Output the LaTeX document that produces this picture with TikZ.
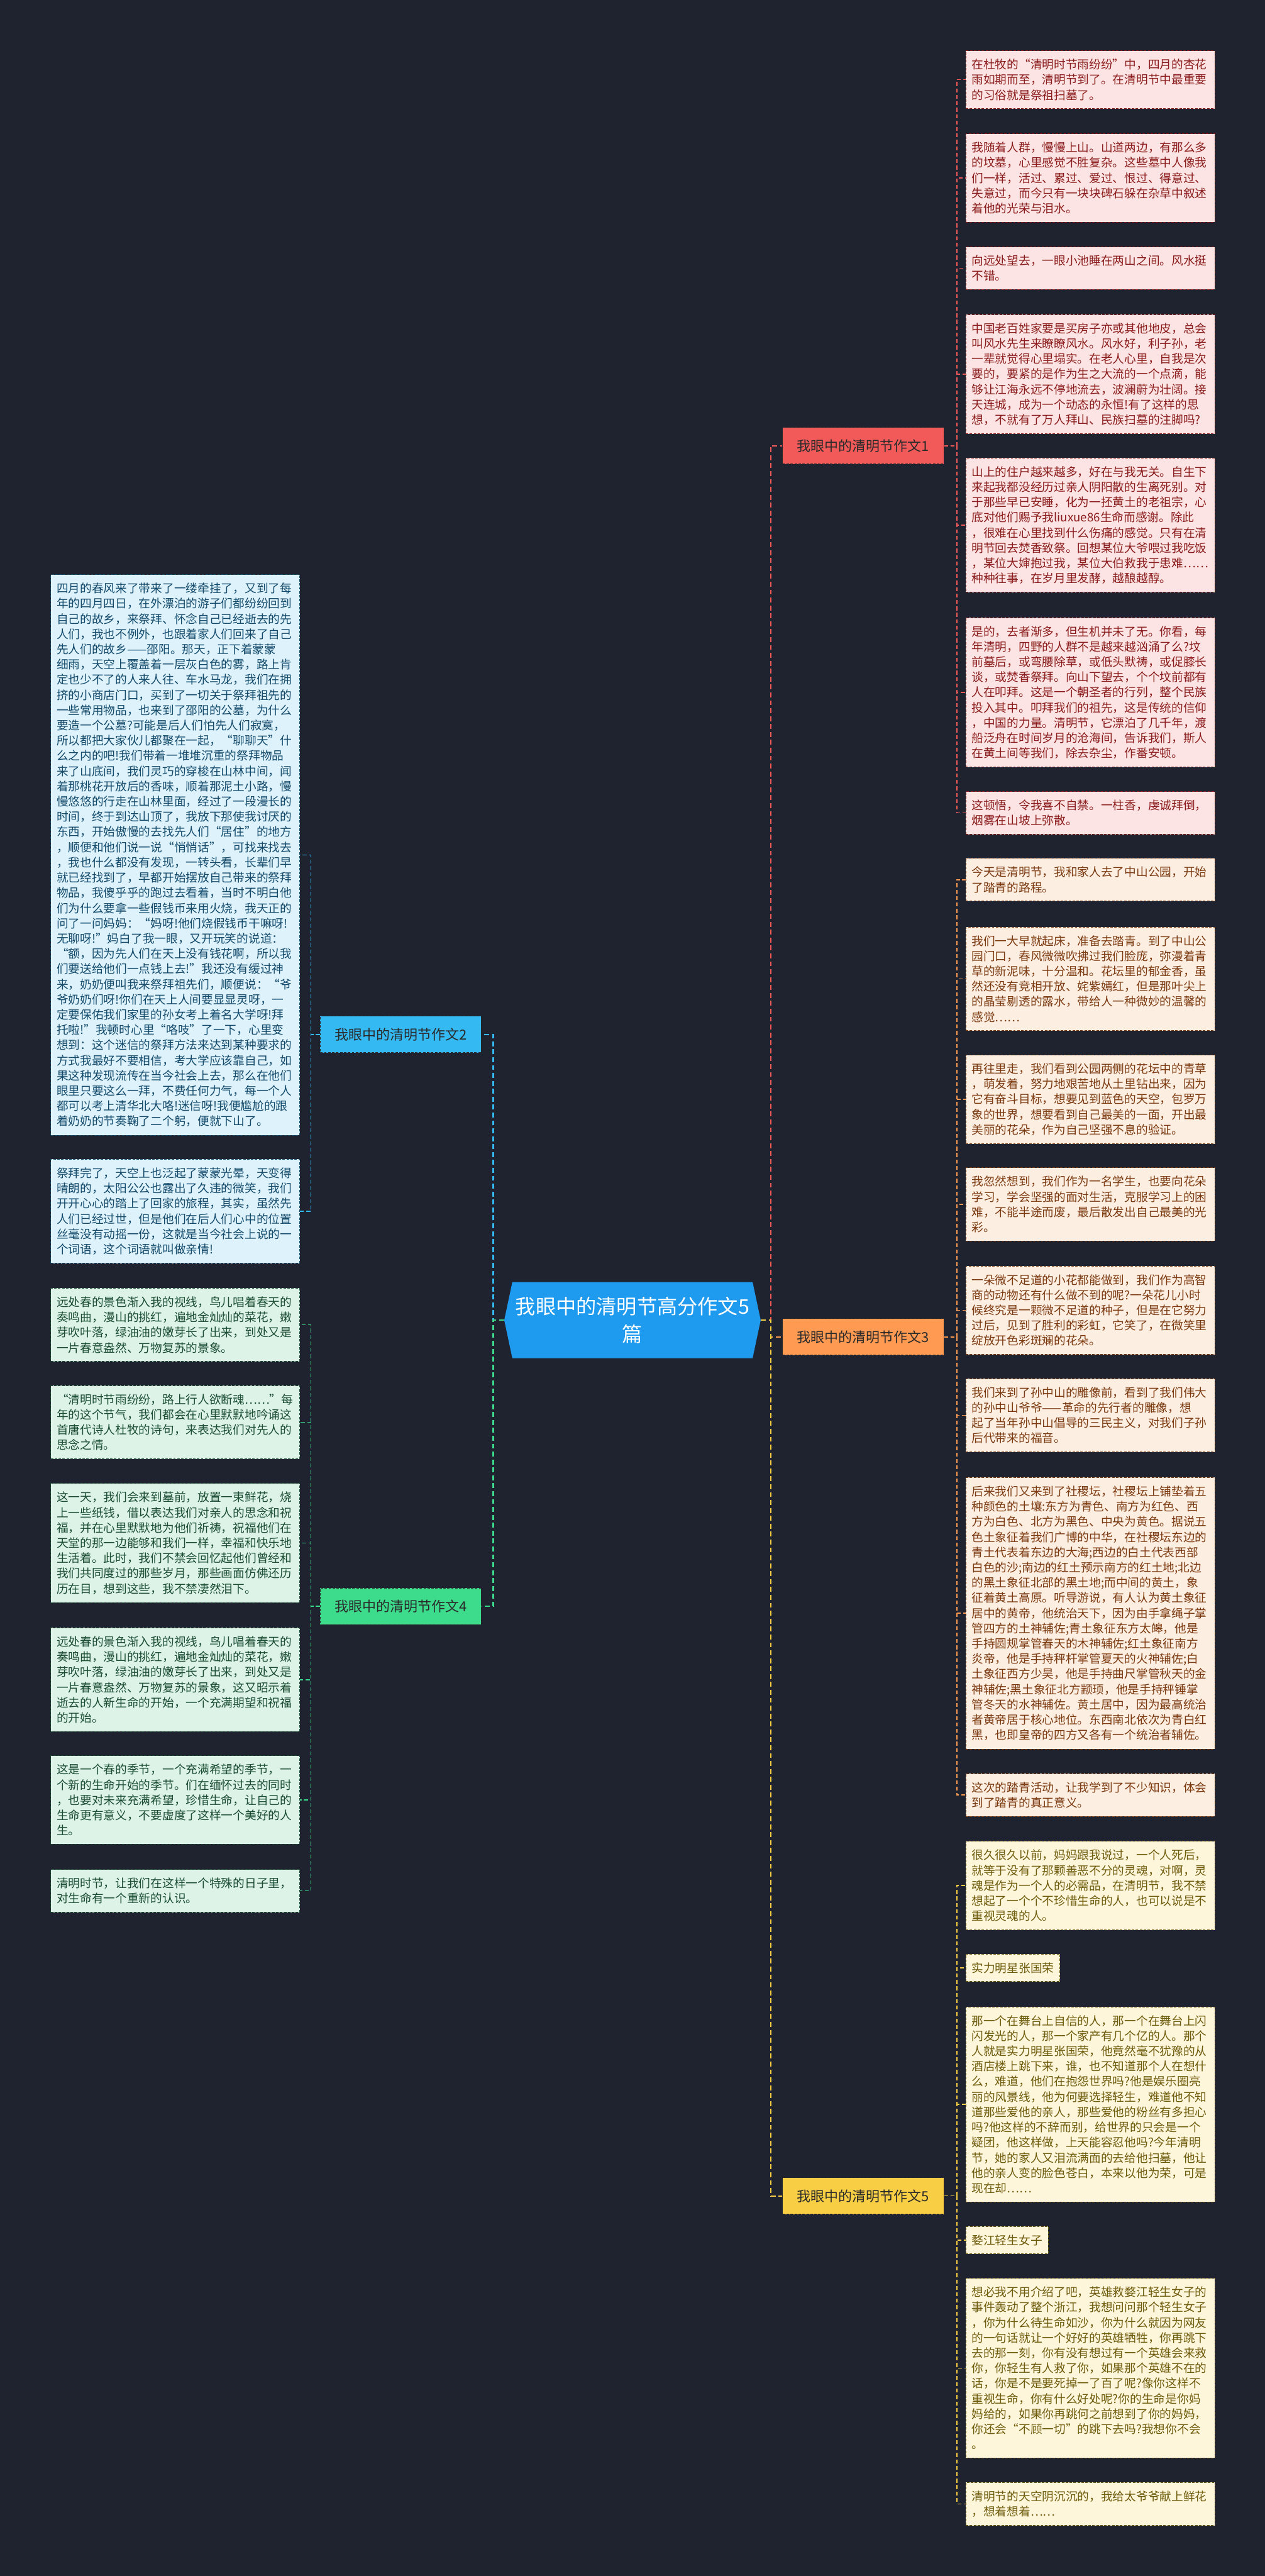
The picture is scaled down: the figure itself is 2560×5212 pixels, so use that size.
\documentclass[tikz,border=0pt]{standalone}
\usepackage{fontspec}
\newfontfamily\cjk{Noto Sans CJK SC}
\usepackage{tikz}
\usetikzlibrary{shapes.symbols,positioning}
\definecolor{bgdark}{HTML}{1F2330}
\definecolor{hubblue}{HTML}{1E9AEF}
\definecolor{redbr}{HTML}{F25A5A}
\definecolor{bluebr}{HTML}{35B9F2}
\definecolor{orangebr}{HTML}{FF9A52}
\definecolor{greenbr}{HTML}{3DDC8C}
\definecolor{yellowbr}{HTML}{F8CE45}
\definecolor{branchtext}{HTML}{2A2A2A}
\definecolor{redfill}{HTML}{FCE4E4}
\definecolor{redtext}{HTML}{8B1C1C}
\definecolor{orangefill}{HTML}{FDEEE2}
\definecolor{orangetext}{HTML}{7B3A10}
\definecolor{yellowfill}{HTML}{FDF6DA}
\definecolor{yellowtext}{HTML}{6E5B0C}
\definecolor{bluefill}{HTML}{DDF2FB}
\definecolor{bluetext}{HTML}{134A6B}
\definecolor{greenfill}{HTML}{DDF3E8}
\definecolor{greentext}{HTML}{1B4D33}

\begin{document}
\begin{tikzpicture}[x=0.5pt,y=-0.5pt,
  leafbase/.style={draw,dash pattern=on 2.5pt off 1.5pt,line width=0.6pt,anchor=north west,
    align=left,inner xsep=6pt,inner ysep=8.4pt,font=\cjk\fontsize{11.9pt}{15.4pt}\selectfont},
  leaf/.style={leafbase,text width=240pt},
  redleaf/.style={fill=redfill,draw=redtext,text=redtext},
  orangeleaf/.style={fill=orangefill,draw=orangetext,text=orangetext},
  yellowleaf/.style={fill=yellowfill,draw=yellowtext,text=yellowtext},
  blueleaf/.style={fill=bluefill,draw=bluetext,text=bluetext},
  greenleaf/.style={fill=greenfill,draw=greentext,text=greentext},
  branch/.style={draw=branchtext,dash pattern=on 2.5pt off 1.5pt,line width=0.6pt,
    minimum width=163pt,minimum height=37pt,inner sep=0pt,text=branchtext,
    font=\cjk\fontsize{14pt}{16pt}\selectfont},
  hub/.style={signal,signal to=west and east,signal pointer angle=156,fill=hubblue,text=white,
    minimum width=259.5pt,minimum height=77pt,align=center,inner xsep=2pt,
    font=\cjk\fontsize{20.5pt}{28.5pt}\selectfont},
  link/.style={line width=1.5pt,dash pattern=on 5pt off 3pt},
  spine/.style={line width=1pt,dash pattern=on 4pt off 2.5pt}
]
\useasboundingbox (0,0) rectangle (2560,5212);
\fill[bgdark] (0,0) rectangle (2560,5212);

% centre and branches
\node[hub] (hub) at (1280,2671) {我眼中的清明节高分作文5\\篇};
\node[branch,fill=redbr] (b1) at (1747,902) {我眼中的清明节作文1};
\node[branch,fill=bluebr] (b2) at (811,2093) {我眼中的清明节作文2};
\node[branch,fill=orangebr] (b3) at (1747,2705) {我眼中的清明节作文3};
\node[branch,fill=greenbr] (b4) at (811,3250) {我眼中的清明节作文4};
\node[branch,fill=yellowbr] (b5) at (1747,4443) {我眼中的清明节作文5};

% essay 1
\node[leaf,redleaf] (l1a) at (1954,102) {在杜牧的“清明时节雨纷纷”中，四月的杏花\\雨如期而至，清明节到了。在清明节中最重要\\的习俗就是祭祖扫墓了。};
\node[leaf,redleaf] (l1b) at (1954,270) {我随着人群，慢慢上山。山道两边，有那么多\\的坟墓，心里感觉不胜复杂。这些墓中人像我\\们一样，活过、累过、爱过、恨过、得意过、\\失意过，而今只有一块块碑石躲在杂草中叙述\\着他的光荣与泪水。};
\node[leaf,redleaf] (l1c) at (1954,499) {向远处望去，一眼小池睡在两山之间。风水挺\\不错。};
\node[leaf,redleaf] (l1d) at (1954,636) {中国老百姓家要是买房子亦或其他地皮，总会\\叫风水先生来瞭瞭风水。风水好，利子孙，老\\一辈就觉得心里塌实。在老人心里，自我是次\\要的，要紧的是作为生之大流的一个点滴，能\\够让江海永远不停地流去，波澜蔚为壮阔。接\\天连城，成为一个动态的永恒!有了这样的思\\想，不就有了万人拜山、民族扫墓的注脚吗?};
\node[leaf,redleaf] (l1e) at (1954,926) {山上的住户越来越多，好在与我无关。自生下\\来起我都没经历过亲人阴阳散的生离死别。对\\于那些早已安睡，化为一抷黄土的老祖宗，心\\底对他们赐予我liuxue86生命而感谢。除此\\，很难在心里找到什么伤痛的感觉。只有在清\\明节回去焚香致祭。回想某位大爷喂过我吃饭\\，某位大婶抱过我，某位大伯救我于患难……\\种种往事，在岁月里发酵，越酿越醇。};
\node[leaf,redleaf] (l1f) at (1954,1249) {是的，去者渐多，但生机并未了无。你看，每\\年清明，四野的人群不是越来越汹涌了么?坟\\前墓后，或弯腰除草，或低头默祷，或促膝长\\谈，或焚香祭拜。向山下望去，个个坟前都有\\人在叩拜。这是一个朝圣者的行列，整个民族\\投入其中。叩拜我们的祖先，这是传统的信仰\\，中国的力量。清明节，它漂泊了几千年，渡\\船泛舟在时间岁月的沧海间，告诉我们，斯人\\在黄土间等我们，除去杂尘，作番安顿。};
\node[leaf,redleaf] (l1g) at (1954,1601) {这顿悟，令我喜不自禁。一柱香，虔诚拜倒，\\烟雾在山坡上弥散。};

% essay 3
\node[leaf,orangeleaf] (l3a) at (1954,1736) {今天是清明节，我和家人去了中山公园，开始\\了踏青的路程。};
\node[leaf,orangeleaf] (l3b) at (1954,1875) {我们一大早就起床，准备去踏青。到了中山公\\园门口，春风微微吹拂过我们脸庞，弥漫着青\\草的新泥味，十分温和。花坛里的郁金香，虽\\然还没有竞相开放、姹紫嫣红，但是那叶尖上\\的晶莹剔透的露水，带给人一种微妙的温馨的\\感觉……};
\node[leaf,orangeleaf] (l3c) at (1954,2134) {再往里走，我们看到公园两侧的花坛中的青草\\，萌发着，努力地艰苦地从土里钻出来，因为\\它有奋斗目标，想要见到蓝色的天空，包罗万\\象的世界，想要看到自己最美的一面，开出最\\美丽的花朵，作为自己坚强不息的验证。};
\node[leaf,orangeleaf] (l3d) at (1954,2362) {我忽然想到，我们作为一名学生，也要向花朵\\学习，学会坚强的面对生活，克服学习上的困\\难，不能半途而废，最后散发出自己最美的光\\彩。};
\node[leaf,orangeleaf] (l3e) at (1954,2561) {一朵微不足道的小花都能做到，我们作为高智\\商的动物还有什么做不到的呢?一朵花儿小时\\候终究是一颗微不足道的种子，但是在它努力\\过后，见到了胜利的彩虹，它笑了，在微笑里\\绽放开色彩斑斓的花朵。};
\node[leaf,orangeleaf] (l3f) at (1954,2789) {我们来到了孙中山的雕像前，看到了我们伟大\\的孙中山爷爷——革命的先行者的雕像，想\\起了当年孙中山倡导的三民主义，对我们子孙\\后代带来的福音。};
\node[leaf,orangeleaf] (l3g) at (1954,2989) {后来我们又来到了社稷坛，社稷坛上铺垫着五\\种颜色的土壤:东方为青色、南方为红色、西\\方为白色、北方为黑色、中央为黄色。据说五\\色土象征着我们广博的中华，在社稷坛东边的\\青土代表着东边的大海;西边的白土代表西部\\白色的沙;南边的红土预示南方的红土地;北边\\的黑土象征北部的黑土地;而中间的黄土，象\\征着黄土高原。听导游说，有人认为黄土象征\\居中的黄帝，他统治天下，因为由手拿绳子掌\\管四方的土神辅佐;青土象征东方太皞，他是\\手持圆规掌管春天的木神辅佐;红土象征南方\\炎帝，他是手持秤杆掌管夏天的火神辅佐;白\\土象征西方少昊，他是手持曲尺掌管秋天的金\\神辅佐;黑土象征北方颛顼，他是手持秤锤掌\\管冬天的水神辅佐。黄土居中，因为最高统治\\者黄帝居于核心地位。东西南北依次为青白红\\黑，也即皇帝的四方又各有一个统治者辅佐。};
\node[leaf,orangeleaf] (l3h) at (1954,3588) {这次的踏青活动，让我学到了不少知识，体会\\到了踏青的真正意义。};

% essay 5
\node[leaf,yellowleaf] (l5a) at (1954,3725) {很久很久以前，妈妈跟我说过，一个人死后，\\就等于没有了那颗善恶不分的灵魂，对啊，灵\\魂是作为一个人的必需品，在清明节，我不禁\\想起了一个个不珍惜生命的人，也可以说是不\\重视灵魂的人。};
\node[leafbase,yellowleaf] (l5b) at (1954,3953) {实力明星张国荣};
\node[leaf,yellowleaf] (l5c) at (1954,4060) {那一个在舞台上自信的人，那一个在舞台上闪\\闪发光的人，那一个家产有几个亿的人。那个\\人就是实力明星张国荣，他竟然毫不犹豫的从\\酒店楼上跳下来，谁，也不知道那个人在想什\\么，难道，他们在抱怨世界吗?他是娱乐圈亮\\丽的风景线，他为何要选择轻生，难道他不知\\道那些爱他的亲人，那些爱他的粉丝有多担心\\吗?他这样的不辞而别，给世界的只会是一个\\疑团，他这样做，上天能容忍他吗?今年清明\\节，她的家人又泪流满面的去给他扫墓，他让\\他的亲人变的脸色苍白，本来以他为荣，可是\\现在却……};
\node[leafbase,yellowleaf] (l5d) at (1954,4504) {婺江轻生女子};
\node[leaf,yellowleaf] (l5e) at (1954,4609) {想必我不用介绍了吧，英雄救婺江轻生女子的\\事件轰动了整个浙江，我想问问那个轻生女子\\，你为什么待生命如沙，你为什么就因为网友\\的一句话就让一个好好的英雄牺牲，你再跳下\\去的那一刻，你有没有想过有一个英雄会来救\\你，你轻生有人救了你，如果那个英雄不在的\\话，你是不是要死掉一了百了呢?像你这样不\\重视生命，你有什么好处呢?你的生命是你妈\\妈给的，如果你再跳何之前想到了你的妈妈，\\你还会“不顾一切”的跳下去吗?我想你不会\\。};
\node[leaf,yellowleaf] (l5f) at (1954,5022) {清明节的天空阴沉沉的，我给太爷爷献上鲜花\\，想着想着……};

% essay 2
\node[leaf,blueleaf] (l2a) at (102,1162) {四月的春风来了带来了一缕牵挂了，又到了每\\年的四月四日，在外漂泊的游子们都纷纷回到\\自己的故乡，来祭拜、怀念自己已经逝去的先\\人们，我也不例外，也跟着家人们回来了自己\\先人们的故乡——邵阳。那天，正下着蒙蒙\\细雨，天空上覆盖着一层灰白色的雾，路上肯\\定也少不了的人来人往、车水马龙，我们在拥\\挤的小商店门口，买到了一切关于祭拜祖先的\\一些常用物品，也来到了邵阳的公墓，为什么\\要造一个公墓?可能是后人们怕先人们寂寞，\\所以都把大家伙儿都聚在一起，“聊聊天”什\\么之内的吧!我们带着一堆堆沉重的祭拜物品\\来了山底间，我们灵巧的穿梭在山林中间，闻\\着那桃花开放后的香味，顺着那泥土小路，慢\\慢悠悠的行走在山林里面，经过了一段漫长的\\时间，终于到达山顶了，我放下那使我讨厌的\\东西，开始傲慢的去找先人们“居住”的地方\\，顺便和他们说一说“悄悄话”，可找来找去\\，我也什么都没有发现，一转头看，长辈们早\\就已经找到了，早都开始摆放自己带来的祭拜\\物品，我傻乎乎的跑过去看着，当时不明白他\\们为什么要拿一些假钱币来用火烧，我天正的\\问了一问妈妈：“妈呀!他们烧假钱币干嘛呀!\\无聊呀!”妈白了我一眼，又开玩笑的说道：\\“额，因为先人们在天上没有钱花啊，所以我\\们要送给他们一点钱上去!”我还没有缓过神\\来，奶奶便叫我来祭拜祖先们，顺便说：“爷\\爷奶奶们呀!你们在天上人间要显显灵呀，一\\定要保佑我们家里的孙女考上着名大学呀!拜\\托啦!”我顿时心里“咯吱”了一下，心里变\\想到：这个迷信的祭拜方法来达到某种要求的\\方式我最好不要相信，考大学应该靠自己，如\\果这种发现流传在当今社会上去，那么在他们\\眼里只要这么一拜，不费任何力气，每一个人\\都可以考上清华北大咯!迷信呀!我便尴尬的跟\\着奶奶的节奏鞠了二个躬，便就下山了。};
\node[leaf,blueleaf] (l2b) at (102,2345) {祭拜完了，天空上也泛起了蒙蒙光晕，天变得\\晴朗的，太阳公公也露出了久违的微笑，我们\\开开心心的踏上了回家的旅程，其实，虽然先\\人们已经过世，但是他们在后人们心中的位置\\丝毫没有动摇一份，这就是当今社会上说的一\\个词语，这个词语就叫做亲情!};

% essay 4
\node[leaf,greenleaf] (l4a) at (102,2606) {远处春的景色渐入我的视线，鸟儿唱着春天的\\奏鸣曲，漫山的挑红，遍地金灿灿的菜花，嫩\\芽吹叶落，绿油油的嫩芽长了出来，到处又是\\一片春意盎然、万物复苏的景象。};
\node[leaf,greenleaf] (l4b) at (102,2803) {“清明时节雨纷纷，路上行人欲断魂……”每\\年的这个节气，我们都会在心里默默地吟诵这\\首唐代诗人杜牧的诗句，来表达我们对先人的\\思念之情。};
\node[leaf,greenleaf] (l4c) at (102,3001) {这一天，我们会来到墓前，放置一束鲜花，烧\\上一些纸钱，借以表达我们对亲人的思念和祝\\福，并在心里默默地为他们祈祷，祝福他们在\\天堂的那一边能够和我们一样，幸福和快乐地\\生活着。此时，我们不禁会回忆起他们曾经和\\我们共同度过的那些岁月，那些画面仿佛还历\\历在目，想到这些，我不禁凄然泪下。};
\node[leaf,greenleaf] (l4d) at (102,3293) {远处春的景色渐入我的视线，鸟儿唱着春天的\\奏鸣曲，漫山的挑红，遍地金灿灿的菜花，嫩\\芽吹叶落，绿油油的嫩芽长了出来，到处又是\\一片春意盎然、万物复苏的景象，这又昭示着\\逝去的人新生命的开始，一个充满期望和祝福\\的开始。};
\node[leaf,greenleaf] (l4e) at (102,3552) {这是一个春的季节，一个充满希望的季节，一\\个新的生命开始的季节。们在缅怀过去的同时\\，也要对未来充满希望，珍惜生命，让自己的\\生命更有意义，不要虚度了这样一个美好的人\\生。};
\node[leaf,greenleaf] (l4f) at (102,3782) {清明时节，让我们在这样一个特殊的日子里，\\对生命有一个重新的认识。};

% links from the centre
\draw[link,redbr] (hub.east) -- ++(20,0) |- (b1.west);
\draw[link,orangebr] (hub.east) -- ++(20,0) |- (b3.west);
\draw[link,yellowbr] (hub.east) -- ++(20,0) |- (b5.west);
\draw[link,bluebr] (hub.west) -- ++(-22,0) |- (b2.east);
\draw[link,greenbr] (hub.west) -- ++(-22,0) |- (b4.east);

% dashed spines to the leaves
\foreach \n in {l1a,l1b,l1c,l1d,l1e,l1f,l1g}
  \draw[spine,redbr] (b1.east) -- ++(26,0) |- (\n.west);
\foreach \n in {l3a,l3b,l3c,l3d,l3e,l3f,l3g,l3h}
  \draw[spine,orangebr] (b3.east) -- ++(26,0) |- (\n.west);
\foreach \n in {l5a,l5b,l5c,l5d,l5e,l5f}
  \draw[spine,yellowbr] (b5.east) -- ++(26,0) |- (\n.west);
\foreach \n in {l2a,l2b}
  \draw[spine,bluebr] (b2.west) -- ++(-18,0) |- (\n.east);
\foreach \n in {l4a,l4b,l4c,l4d,l4e,l4f}
  \draw[spine,greenbr] (b4.west) -- ++(-18,0) |- (\n.east);
\end{tikzpicture}
\end{document}
